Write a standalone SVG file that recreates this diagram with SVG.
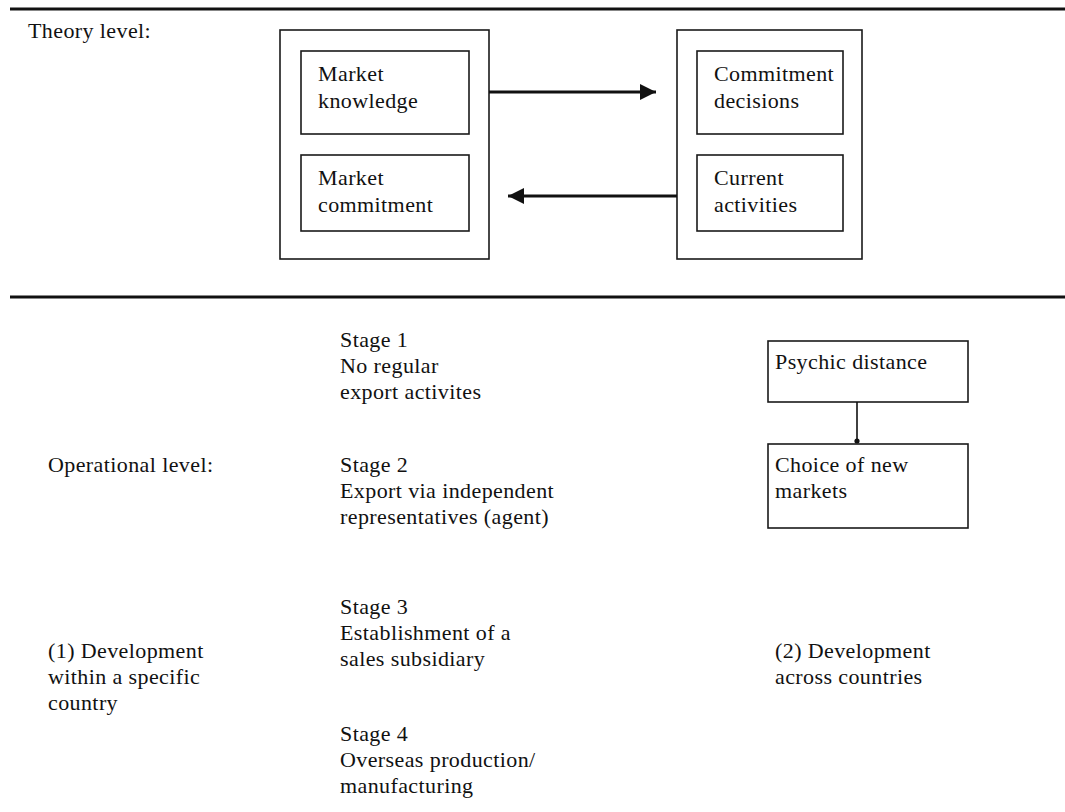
<svg xmlns="http://www.w3.org/2000/svg" width="1065" height="812" viewBox="0 0 1065 812">
  <style>
    .t { font-family: "Liberation Serif", "Times New Roman", serif; font-size: 22px; letter-spacing: 0.4px; fill: #111; }
    .box { fill: none; stroke: #1a1a1a; stroke-width: 1.6; }
    .rule { stroke: #111; stroke-width: 3; }
    .arrow { stroke: #111; stroke-width: 3; fill: none; }
    .link { stroke: #111; stroke-width: 1.6; fill: none; }
  </style>
  <defs>
    <marker id="head" markerUnits="userSpaceOnUse" markerWidth="16" markerHeight="16" refX="16" refY="8" orient="auto">
      <path d="M0,0 L16,8 L0,16 Z" fill="#111"/>
    </marker>
    <marker id="dot" markerUnits="userSpaceOnUse" markerWidth="6" markerHeight="6" refX="3" refY="3" orient="auto">
      <circle cx="3" cy="3" r="2.6" fill="#111"/>
    </marker>
  </defs>

  <rect width="1065" height="812" fill="#fff"/>

  <!-- section rules -->
  <g id="rules">
    <line class="rule" x1="10" y1="9" x2="1065" y2="9"/>
    <line class="rule" x1="10" y1="297" x2="1065" y2="297"/>
  </g>

  <!-- theory level -->
  <g id="theory-label">
    <text class="t" x="28" y="38">Theory level:</text>
  </g>

  <g id="state-aspects">
    <rect class="box" x="280" y="30" width="209" height="229"/>
    <g id="market-knowledge">
      <rect class="box" x="301" y="51" width="168" height="83"/>
      <text class="t" x="318" y="81">Market</text>
      <text class="t" x="318" y="108">knowledge</text>
    </g>
    <g id="market-commitment">
      <rect class="box" x="301" y="155" width="168" height="76"/>
      <text class="t" x="318" y="185">Market</text>
      <text class="t" x="318" y="212">commitment</text>
    </g>
  </g>

  <g id="change-aspects">
    <rect class="box" x="677" y="30" width="185" height="229"/>
    <g id="commitment-decisions">
      <rect class="box" x="697" y="51" width="146" height="83"/>
      <text class="t" x="714" y="81">Commitment</text>
      <text class="t" x="714" y="108">decisions</text>
    </g>
    <g id="current-activities">
      <rect class="box" x="697" y="155" width="146" height="76"/>
      <text class="t" x="714" y="185">Current</text>
      <text class="t" x="714" y="212">activities</text>
    </g>
  </g>

  <!-- operational level -->
  <g id="operational-label">
    <text class="t" x="48" y="472">Operational level:</text>
  </g>

  <g id="stage-1">
    <text class="t" x="340" y="347">Stage 1</text>
    <text class="t" x="340" y="373">No regular</text>
    <text class="t" x="340" y="399">export activites</text>
  </g>
  <g id="stage-2">
    <text class="t" x="340" y="472">Stage 2</text>
    <text class="t" x="340" y="498">Export via independent</text>
    <text class="t" x="340" y="524">representatives (agent)</text>
  </g>
  <g id="stage-3">
    <text class="t" x="340" y="614">Stage 3</text>
    <text class="t" x="340" y="640">Establishment of a</text>
    <text class="t" x="340" y="666">sales subsidiary</text>
  </g>
  <g id="stage-4">
    <text class="t" x="340" y="741">Stage 4</text>
    <text class="t" x="340" y="767">Overseas production/</text>
    <text class="t" x="340" y="793">manufacturing</text>
  </g>

  <g id="within-country">
    <text class="t" x="48" y="658">(1) Development</text>
    <text class="t" x="48" y="684">within a specific</text>
    <text class="t" x="48" y="710">country</text>
  </g>

  <g id="psychic-distance">
    <rect class="box" x="768" y="341" width="200" height="61"/>
    <text class="t" x="775" y="369">Psychic distance</text>
  </g>
  <g id="new-markets">
    <rect class="box" x="768" y="444" width="200" height="84"/>
    <text class="t" x="775" y="472">Choice of new</text>
    <text class="t" x="775" y="498">markets</text>
  </g>

  <g id="across-countries">
    <text class="t" x="775" y="658">(2) Development</text>
    <text class="t" x="775" y="684">across countries</text>
  </g>

  <!-- connectors -->
  <g id="connectors">
    <line class="arrow" x1="489" y1="92" x2="656" y2="92" marker-end="url(#head)"/>
    <line class="arrow" x1="677" y1="196" x2="508" y2="196" marker-end="url(#head)"/>
    <line class="link" x1="857" y1="402" x2="857" y2="441" marker-end="url(#dot)"/>
  </g>
</svg>
